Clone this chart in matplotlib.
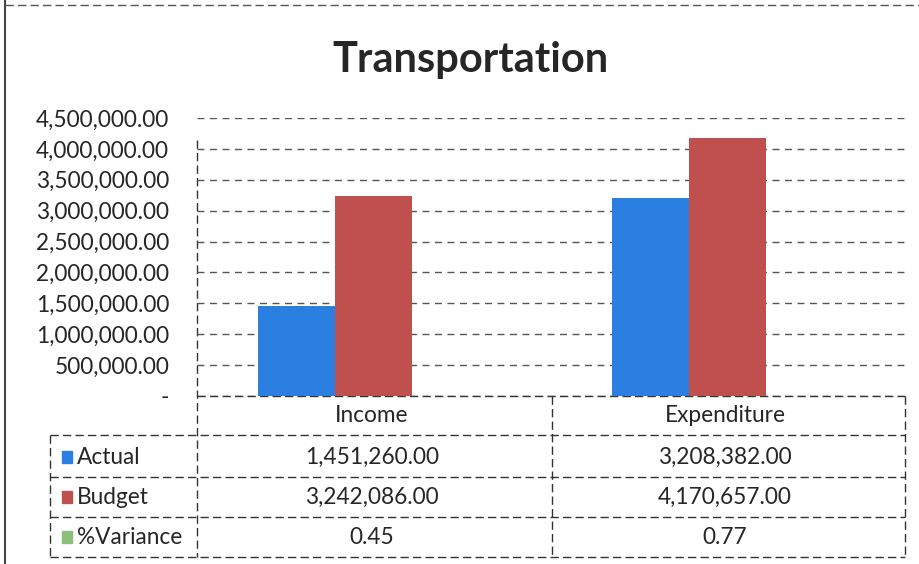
import matplotlib
matplotlib.use("Agg")
import matplotlib.pyplot as plt
from matplotlib.ticker import FuncFormatter, MultipleLocator

plt.rcParams['font.family'] = ['Lato', 'DejaVu Sans']

title = "Transportation"
categories = ["Income", "Expenditure"]
series_names = ["Actual", "Budget", "%Variance"]
actual = [1451260.00, 3208382.00]
budget = [3242086.00, 4170657.00]
variance = [0.45, 0.77]
colors = ["#2a7fe0", "#c0504d", "#8cc07a"]

W, H = 920, 564
fs = 16.3
tc = "#262626"
fig = plt.figure(figsize=(W / 100, H / 100), dpi=100)

# overlay in pixel coordinates
ov = fig.add_axes([0, 0, 1, 1])
ov.set_xlim(0, W)
ov.set_ylim(H, 0)
ov.axis("off")

# main plot axes
x_left, x_right, y_top, y_bot = 197, 905, 118, 396
ax = fig.add_axes([x_left / W, 1 - y_bot / H, (x_right - x_left) / W, (y_bot - y_top) / H])
ax.set_zorder(2)
ax.patch.set_alpha(0)
xs = [0, 1]
bw = 0.218
ax.bar([x - bw / 2 for x in xs], actual, width=bw, color=colors[0], zorder=3)
ax.bar([x + bw / 2 for x in xs], budget, width=bw, color=colors[1], zorder=3)
ax.set_xlim(-0.39, 1.61)
ax.set_ylim(0, 4500000)
ax.yaxis.set_major_locator(MultipleLocator(500000))
ax.yaxis.set_major_formatter(FuncFormatter(lambda v, p: "-" if v == 0 else f"{v:,.2f}"))
ax.tick_params(axis="y", length=0, labelsize=fs, labelcolor=tc, pad=20)
ax.set_xticks([])
for s in ax.spines.values():
    s.set_visible(False)
ax.grid(axis="y", color="#555555", linestyle=(0, (5, 4)), linewidth=1.0, zorder=0)

# title
ov.text(471, 60, title, ha="center", va="center", fontsize=30, fontweight="bold", color=tc)

# frame of the whole chart
ls = (0, (6, 3))
ov.plot([5, 5], [0, H], color="#444444", lw=1.5)
ov.plot([5, W], [5, 5], color="#555555", lw=1.0, linestyle=ls)

# data table lines
line_kw = dict(color="#333333", lw=1.0, linestyle=ls)
for y in [435, 477, 517, 557]:
    ov.plot([50, 905], [y, y], **line_kw)
ov.plot([50, 50], [435, 557], **line_kw)
ov.plot([197, 197], [140, 557], **line_kw)
ov.plot([552, 552], [396, 557], **line_kw)
ov.plot([905, 905], [396, 557], **line_kw)
ov.plot([197, 905], [396, 396], **line_kw)

col_centers = [372, 725]
row_y = [457, 497, 537]
for cx, c in zip(col_centers, categories):
    ov.text(cx, 415, c, ha="center", va="center", fontsize=fs, color=tc)

rows = [actual, budget, variance]
for ry, name, col, vals in zip(row_y, series_names, colors, rows):
    ov.add_patch(plt.Rectangle((62, ry - 6), 10, 12, color=col))
    ov.text(77, ry, name, ha="left", va="center", fontsize=fs, color=tc)
    for cx, v in zip(col_centers, vals):
        ov.text(cx, ry, f"{v:,.2f}", ha="center", va="center", fontsize=fs, color=tc)

fig.savefig("out.png", dpi=100)
